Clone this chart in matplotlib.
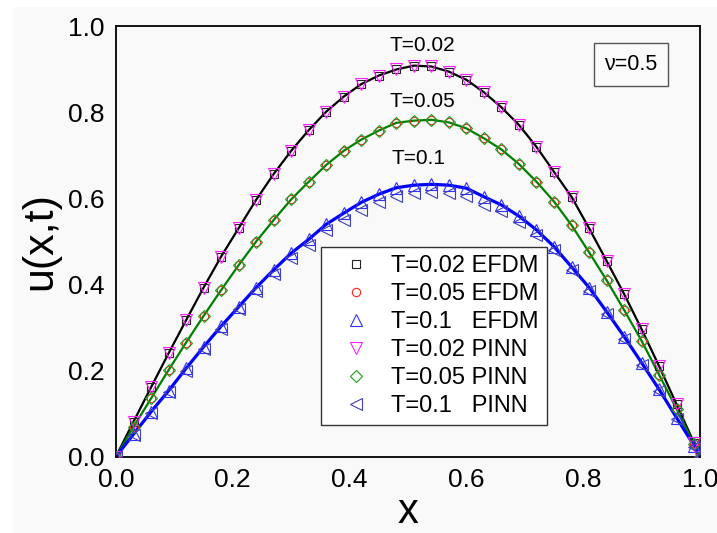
import matplotlib
matplotlib.use("Agg")
import matplotlib.pyplot as plt
from matplotlib.patches import Rectangle

plt.rcParams["font.family"] = ["Liberation Sans", "DejaVu Sans"]

# grid points
x = [0.00, 0.03, 0.06, 0.09, 0.12, 0.15, 0.18, 0.21, 0.24, 0.27, 0.30, 0.33,
     0.36, 0.39, 0.42, 0.45, 0.48, 0.51, 0.54, 0.57, 0.60, 0.63, 0.66, 0.69,
     0.72, 0.75, 0.78, 0.81, 0.84, 0.87, 0.90, 0.93, 0.96, 0.99, 1.00]

# T=0.02
u02 = [0.000, 0.081, 0.161, 0.240, 0.317, 0.393, 0.465, 0.531, 0.597, 0.657,
       0.711, 0.759, 0.802, 0.837, 0.866, 0.886, 0.900, 0.909, 0.907, 0.895,
       0.876, 0.847, 0.812, 0.771, 0.720, 0.662, 0.604, 0.531, 0.455, 0.378,
       0.296, 0.210, 0.121, 0.031, 0.000]

# T=0.05
u05 = [0.000, 0.069, 0.135, 0.201, 0.265, 0.327, 0.387, 0.445, 0.500, 0.550,
       0.598, 0.639, 0.678, 0.711, 0.737, 0.758, 0.776, 0.781, 0.783, 0.777,
       0.763, 0.740, 0.714, 0.680, 0.639, 0.593, 0.538, 0.475, 0.410, 0.341,
       0.269, 0.190, 0.110, 0.028, 0.000]

# T=0.1 (EFDM)
u10 = [0.000, 0.052, 0.104, 0.153, 0.205, 0.255, 0.303, 0.348, 0.393, 0.434,
       0.473, 0.505, 0.540, 0.566, 0.591, 0.610, 0.625, 0.631, 0.633, 0.631,
       0.624, 0.604, 0.585, 0.559, 0.527, 0.488, 0.441, 0.393, 0.337, 0.279,
       0.218, 0.156, 0.090, 0.025, 0.000]

# T=0.1 (PINN)
u10_pinn = [0.000, 0.050, 0.101, 0.149, 0.200, 0.249, 0.296, 0.342, 0.386, 0.425,
            0.462, 0.493, 0.527, 0.551, 0.574, 0.592, 0.606, 0.612, 0.614, 0.612,
            0.605, 0.586, 0.570, 0.545, 0.515, 0.480, 0.433, 0.386, 0.331, 0.274,
            0.213, 0.152, 0.087, 0.023, 0.000]

fig = plt.figure(figsize=(7.17, 5.33), dpi=100, facecolor="white")
fig.patches.append(Rectangle((13 / 717, 0), 1, (533 - 7) / 533, transform=fig.transFigure,
                             facecolor="#f9f9f9", edgecolor="none", zorder=-10))
ax = fig.add_axes([0.1618, 0.1435, 0.8145, 0.8068])
ax.set_facecolor("#f9f9f9")

# solid lines
ax.plot(x, u02, color="black", lw=1.6, zorder=2)
ax.plot(x, u05, color="#008000", lw=1.6, zorder=2)
ax.plot(x, u10, color="#0000ff", lw=2.3, zorder=2)

# EFDM markers
h1, = ax.plot(x, u02, ls="none", marker="s", ms=6, mfc="none", mec="#222222", mew=0.8,
              label="T=0.02 EFDM", zorder=3)
h2, = ax.plot(x, u05, ls="none", marker="o", ms=6, mfc="none", mec="#ff2020", mew=0.8,
              label="T=0.05 EFDM", zorder=3)
h3, = ax.plot(x, u10, ls="none", marker="^", ms=9, mfc="none", mec="#3030ff", mew=0.8,
              label="T=0.1   EFDM", zorder=3)
# PINN markers
h4, = ax.plot(x, u02, ls="none", marker="v", ms=9, mfc="none", mec="#ff20ff", mew=0.8,
              label="T=0.02 PINN", zorder=4)
h5, = ax.plot(x, u05, ls="none", marker="D", ms=6.3, mfc="none", mec="#1f9a1f", mew=0.8,
              label="T=0.05 PINN", zorder=4)
h6, = ax.plot(x, u10_pinn, ls="none", marker="<", ms=9, mfc="none", mec="#4040b8", mew=0.8,
              label="T=0.1   PINN", zorder=4)

ax.set_xlim(0, 1)
ax.set_ylim(0, 1)
ax.set_xticks([0.0, 0.2, 0.4, 0.6, 0.8, 1.0])
ax.set_yticks([0.0, 0.2, 0.4, 0.6, 0.8, 1.0])
ax.set_xticklabels(["0.0", "0.2", "0.4", "0.6", "0.8", "1.0"])
ax.set_yticklabels(["0.0", "0.2", "0.4", "0.6", "0.8", "1.0"])
ax.tick_params(length=0, labelsize=19, pad=8)
for s in ax.spines.values():
    s.set_linewidth(1.4)
    s.set_color("#111111")

ax.set_xlabel("x", fontsize=30, labelpad=0)
ax.set_ylabel("u(x,t)", fontsize=31, labelpad=6)

ax.text(0.525, 0.955, "T=0.02", fontsize=15, ha="center", va="center", transform=ax.transAxes)
ax.text(0.525, 0.825, "T=0.05", fontsize=15, ha="center", va="center", transform=ax.transAxes)
ax.text(0.518, 0.693, "T=0.1", fontsize=15, ha="center", va="center", transform=ax.transAxes)
ax.text(0.882, 0.912, "ν=0.5", fontsize=15.5, ha="center", va="center", transform=ax.transAxes,
        bbox=dict(boxstyle="square,pad=0.5", facecolor="#fbfbfb", edgecolor="#555555", lw=1))

leg = ax.legend(handles=[h1, h2, h3, h4, h5, h6], loc="lower left",
                bbox_to_anchor=(0.351, 0.073), fontsize=17, frameon=True, fancybox=False,
                framealpha=1, facecolor="white", edgecolor="#333333", borderpad=0.35,
                labelspacing=0.25, handlelength=2.3, handletextpad=0.3, borderaxespad=0)
leg.get_frame().set_linewidth(1.0)

fig.savefig("out.png", dpi=100, facecolor=fig.get_facecolor())
plt.close(fig)
